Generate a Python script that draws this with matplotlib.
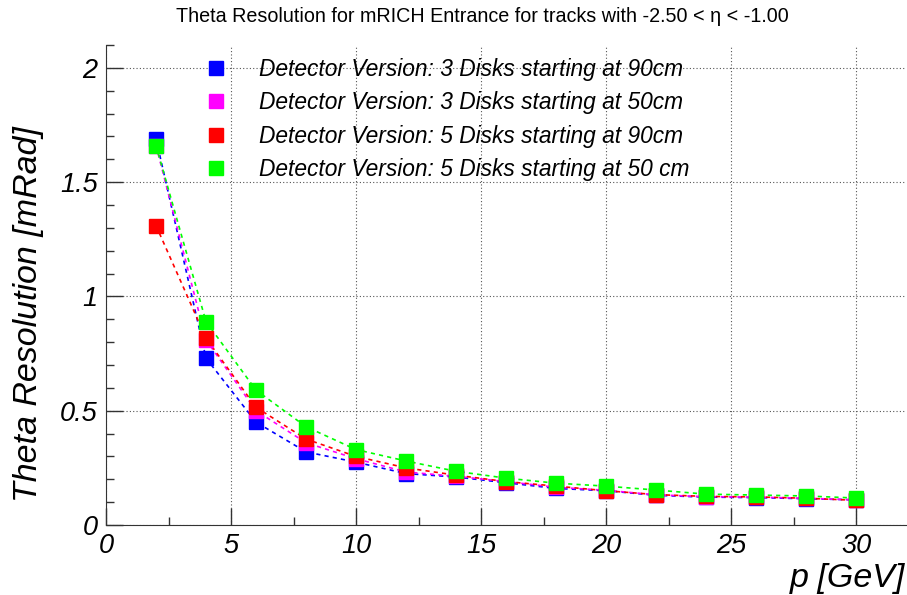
import matplotlib
matplotlib.use("Agg")
import matplotlib.pyplot as plt
from matplotlib.ticker import MultipleLocator

p = [2, 4, 6, 8, 10, 12, 14, 16, 18, 20, 22, 24, 26, 28, 30]
res_3d_90 = [1.69, 0.73, 0.45, 0.32, 0.275, 0.225, 0.21, 0.185, 0.16, 0.15, 0.13, 0.122, 0.12, 0.115, 0.11]
res_3d_50 = [1.66, 0.81, 0.50, 0.36, 0.29, 0.232, 0.213, 0.19, 0.165, 0.152, 0.132, 0.124, 0.122, 0.117, 0.11]
res_5d_90 = [1.31, 0.817, 0.515, 0.376, 0.30, 0.25, 0.218, 0.19, 0.17, 0.15, 0.133, 0.125, 0.123, 0.117, 0.108]
res_5d_50 = [1.66, 0.89, 0.59, 0.43, 0.33, 0.28, 0.235, 0.205, 0.183, 0.17, 0.153, 0.135, 0.131, 0.127, 0.118]
err_3d_90 = [0.03, 0.01, 0.005, 0.004, 0.003, 0.003, 0.002, 0.002, 0.002, 0.002, 0.002, 0.002, 0.002, 0.002, 0.002]

labels = ["Detector Version: 3 Disks starting at 90cm",
          "Detector Version: 3 Disks starting at 50cm",
          "Detector Version: 5 Disks starting at 90cm",
          "Detector Version: 5 Disks starting at 50 cm"]
colors = ["#0000ff", "#ff00ff", "#ff0000", "#00ff00"]
series = [res_3d_90, res_3d_50, res_5d_90, res_5d_50]

plt.rcParams['font.family'] = ['Liberation Sans', 'DejaVu Sans']

fig = plt.figure(figsize=(9.07, 5.95), dpi=100)
ax = fig.add_axes([106/907, 1 - 525/595, 800/907, 480/595])

for i, (ys, c, lab) in enumerate(zip(series, colors, labels)):
    if i == 0:
        ax.errorbar(p, ys, yerr=err_3d_90, fmt='none', ecolor=c, elinewidth=1, capsize=0, zorder=3)
    ax.plot(p, ys, linestyle=(0, (2.5, 2.5)), color=c, linewidth=1.2, zorder=2)
    ax.plot(p, ys, linestyle='none', marker='s', markersize=9.5, color=c,
            markeredgecolor=c, label=lab, zorder=4 + i)

ax.set_xlim(0, 32)
ax.set_ylim(0, 2.1)
ax.xaxis.set_major_locator(MultipleLocator(5))
ax.xaxis.set_minor_locator(MultipleLocator(2.5))
ax.yaxis.set_major_locator(MultipleLocator(0.5))
ax.yaxis.set_minor_locator(MultipleLocator(0.1))
ax.set_yticks([0, 0.5, 1, 1.5, 2])
ax.set_yticklabels(["0", "0.5", "1", "1.5", "2"])
ax.grid(True, which='major', linestyle=(0, (1, 2)), color='#555555', linewidth=0.8)
for s in ['top', 'right']:
    ax.spines[s].set_visible(False)
for s in ['left', 'bottom']:
    ax.spines[s].set_color('#333333')
ax.tick_params(which='major', direction='in', length=12, width=1, color='#333333', labelsize=19.5, pad=6)
ax.tick_params(which='minor', direction='in', length=6, width=1, color='#333333')
for t in ax.get_xticklabels() + ax.get_yticklabels():
    t.set_fontstyle('italic')

ax.set_ylabel("Theta Resolution [mRad]", fontsize=24.5, style='italic')
ax.yaxis.set_label_coords(-0.078, 0.44)
fig.text(905/907, 1 - 578/595, "p [GeV]", fontsize=24.5, style='italic', ha='right', va='center')
fig.text(482/907, 1 - 17/595, "Theta Resolution for mRICH Entrance for tracks with -2.50 < η < -1.00",
         fontsize=14.2, ha='center', va='center')

leg = ax.legend(loc='upper left', bbox_to_anchor=(0.091, 1.016), frameon=False,
                prop={'style': 'italic', 'size': 16.4}, handletextpad=1.1, labelspacing=0.46,
                markerscale=1.0, handlelength=1.5)

fig.savefig("out.png", dpi=100)
